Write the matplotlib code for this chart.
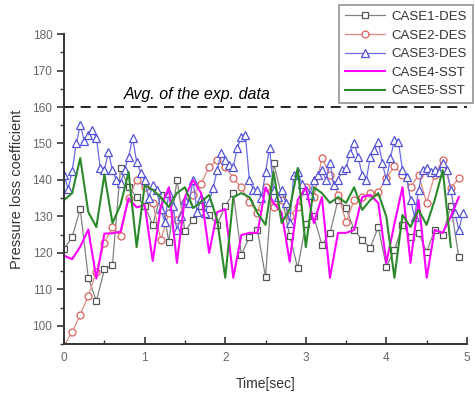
import numpy as np
import matplotlib
matplotlib.use("Agg")
import matplotlib.pyplot as plt
from matplotlib.ticker import MultipleLocator

plt.rcParams["font.family"] = ["Liberation Sans", "DejaVu Sans"]

# time axes (sec)
t_01 = np.round(np.arange(0, 5.0, 0.1), 2)     # 0.0 .. 4.9
t_005 = np.round(np.arange(0, 5.0, 0.05), 2)   # 0.00 .. 4.95
t_case5 = t_01[:49]                            # green line stops at 4.8

case1 = [121.0, 124.4, 132.0, 113.2, 106.8, 115.5, 116.7, 143.3, 138.0, 135.3,
         132.9, 127.7, 135.9, 123.0, 140.0, 126.0, 129.0, 133.0, 130.4, 127.7,
         132.9, 136.4, 119.5, 124.4, 126.3, 113.4, 144.7, 135.6, 124.7, 115.9,
         128.0, 130.0, 122.2, 125.5, 134.5, 132.3, 126.3, 123.6, 121.4, 127.1,
         116.2, 120.8, 127.7, 124.4, 125.5, 120.3, 126.3, 124.9, 132.9, 118.9]

case2 = [94.5, 98.4, 103.0, 108.2, 114.8, 122.7, 127.1, 124.7, 135.0, 140.0,
         138.0, 133.7, 123.6, 131.0, 129.0, 134.0, 136.0, 139.0, 143.6, 145.5,
         143.6, 140.5, 138.0, 134.0, 131.0, 138.0, 132.6, 134.5, 130.0, 132.6,
         138.0, 135.3, 146.0, 141.4, 136.0, 128.5, 134.5, 135.3, 136.4, 136.7,
         140.5, 143.8, 141.4, 138.0, 141.4, 133.7, 141.4, 145.5, 137.8, 140.5]

case3 = [141.4, 137.5, 142.5, 150.0, 155.0, 150.8, 152.3, 153.7, 151.4, 143.2,
         142.7, 147.7, 142.7, 140.0, 139.2, 142.7, 146.3, 151.5, 145.0, 142.0,
         140.0, 135.0, 138.6, 137.3, 132.0, 128.5, 136.4, 133.0, 126.3, 130.0,
         134.5, 133.7, 140.0, 131.2, 135.0, 131.0, 134.0, 137.8, 142.7, 147.4,
         145.5, 144.1, 143.6, 148.8, 151.8, 152.3, 140.0, 137.3, 137.3, 135.0,
         142.2, 148.8, 137.3, 135.3, 137.3, 133.7, 128.2, 141.4, 142.2, 139.0,
         137.3, 136.0, 140.0, 141.4, 142.7, 140.0, 144.7, 138.6, 140.0, 142.7,
         143.3, 147.4, 150.1, 146.3, 141.4, 140.0, 146.3, 148.2, 150.4, 144.7,
         140.0, 146.0, 151.0, 150.4, 142.7, 140.8, 134.5, 129.9, 137.3, 142.7,
         143.3, 142.2, 142.7, 142.2, 144.7, 142.7, 137.3, 131.0, 126.3, 131.0]

case4 = [119.2, 118.3, 121.7, 126.4, 113.0, 125.3, 125.4, 125.8, 135.0, 132.5,
         133.1, 117.8, 132.6, 138.0, 117.3, 135.3, 140.0, 136.4, 120.0, 131.2,
         132.0, 113.2, 124.9, 125.5, 125.5, 138.0, 133.7, 131.0, 117.6, 134.5,
         138.0, 128.2, 135.3, 113.2, 125.5, 125.5, 126.3, 135.3, 135.9, 133.7,
         117.3, 128.0, 138.0, 117.3, 134.5, 113.2, 126.3, 125.5, 130.0, 135.3]

case5 = [134.5, 136.4, 146.0, 131.2, 127.1, 141.5, 128.2, 133.2, 142.2, 121.6,
         138.6, 137.3, 135.3, 132.6, 136.4, 138.0, 132.3, 134.0, 135.9, 129.0,
         113.2, 135.3, 136.4, 135.3, 131.0, 127.7, 142.2, 128.2, 132.0, 143.3,
         121.6, 138.0, 136.4, 133.7, 135.3, 133.7, 138.0, 131.8, 134.5, 136.4,
         129.9, 113.2, 130.4, 127.1, 131.8, 127.7, 134.5, 142.7, 121.6]

exp_avg = 160

fig = plt.figure(figsize=(4.75, 3.96), dpi=100)
ax = fig.add_axes([0.135, 0.131, 0.848, 0.783])

ax.plot(t_01, case1, color="#808080", lw=0.9, marker="s", ms=5,
        mfc="white", mec="#555555", mew=0.9, label="CASE1-DES")
ax.plot(t_01, case2, color="#e08880", lw=0.9, marker="o", ms=5,
        mfc="white", mec="#d9605a", mew=0.9, label="CASE2-DES")
ax.plot(t_005, case3, color="#6a6ae6", lw=0.9, marker="^", ms=5.5,
        mfc="white", mec="#5050d8", mew=0.9, label="CASE3-DES")
ax.plot(t_01, case4, color="#ff00ff", lw=1.5, label="CASE4-SST")
ax.plot(t_case5, case5, color="#2a8a2a", lw=1.5, label="CASE5-SST")

ax.axhline(exp_avg, color="black", lw=1.2, ls=(0, (6, 4)))
ax.text(0.74, 161.5, "Avg. of the exp. data", fontsize=11.5, style="italic",
        va="bottom", ha="left")

ax.set_xlim(0, 5)
ax.set_ylim(95, 180)
ax.xaxis.set_major_locator(MultipleLocator(1))
ax.xaxis.set_minor_locator(MultipleLocator(0.5))
ax.yaxis.set_major_locator(MultipleLocator(10))
ax.yaxis.set_minor_locator(MultipleLocator(5))

for s in ["top", "right"]:
    ax.spines[s].set_visible(False)
for s in ["left", "bottom"]:
    ax.spines[s].set_color("#333333")
    ax.spines[s].set_linewidth(1.4)

ax.tick_params(axis="y", which="major", direction="out", length=5, width=1.2,
               colors="#333333", labelcolor="#666666", labelsize=8.5)
ax.tick_params(axis="y", which="minor", direction="out", length=3, width=1.0,
               colors="#333333")
ax.tick_params(axis="x", which="major", direction="in", length=5, width=1.2,
               colors="#333333", labelcolor="#666666", labelsize=8.5, pad=6)
ax.tick_params(axis="x", which="minor", direction="in", length=3, width=1.0,
               colors="#333333")

ax.set_xlabel("Time[sec]", fontsize=10, color="#333333", labelpad=9)
ax.set_ylabel("Pressure loss coefficient", fontsize=10.5, color="#333333",
              labelpad=6)

leg = ax.legend(loc="upper right", bbox_to_anchor=(1.015, 1.094),
                fontsize=9.5, frameon=True, fancybox=False, handlelength=3,
                borderpad=0.45, labelspacing=0.48, handletextpad=0.5,
                borderaxespad=0)
leg.get_frame().set_edgecolor("#777777")
leg.get_frame().set_linewidth(1.2)
for txt in leg.get_texts():
    txt.set_color("#333333")

fig.savefig("out.png", dpi=100)
